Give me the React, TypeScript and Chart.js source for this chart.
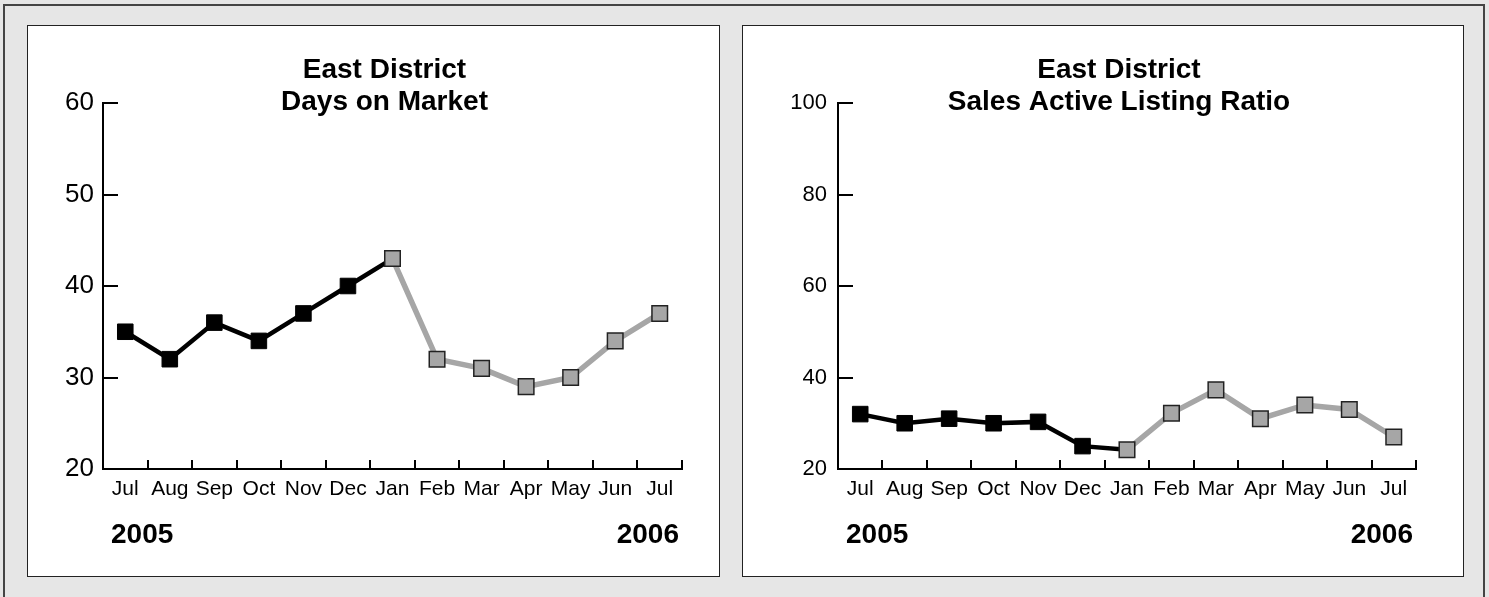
import React, { useEffect, useRef } from "react";
import { Chart, registerables } from "chart.js";

Chart.register(...registerables);

// ---- data ----
const monthLabels = ["Jul", "Aug", "Sep", "Oct", "Nov", "Dec", "Jan", "Feb", "Mar", "Apr", "May", "Jun", "Jul"];
const startYear = "2005";
const endYear = "2006";
// index at which the grey (recent) series begins
const splitIndex = 6;

const daysOnMarketTitle = ["East District", "Days on Market"];
const daysOnMarket = [35, 32, 36, 34, 37, 40, 43, 32, 31, 29, 30, 34, 37];
const daysTicks = { min: 20, max: 60, step: 10 };

const salesRatioTitle = ["East District", "Sales Active Listing Ratio"];
const salesRatio = [32, 30, 31, 30, 30.3, 25, 24.2, 32.2, 37.3, 31, 34, 33, 27];
const salesTicks = { min: 20, max: 100, step: 20 };

const FONT = '"Liberation Sans", Arial, Helvetica, sans-serif';

type PanelProps = {
  left: number;
  top: number;
  width: number;
  height: number;
  padLeft: number;
  padRight: number;
  title: string[];
  values: number[];
  ticks: { min: number; max: number; step: number };
  yFont: number;
  yPad: number;
};

function ChartPanel(p: PanelProps) {
  const ref = useRef<HTMLCanvasElement | null>(null);
  useEffect(() => {
    if (!ref.current) return;
    const black = p.values.map((v, i) => (i <= splitIndex ? v : null));
    const grey = p.values.map((v, i) => (i >= splitIndex ? v : null));
    const blackRadius = p.values.map((_, i) => (i < splitIndex ? 11 : 0));

    const decor = {
      id: "decor",
      afterDraw(chart: any) {
        const ctx = chart.ctx;
        const xs = chart.scales.x;
        const ys = chart.scales.y;
        const area = chart.chartArea;
        ctx.save();
        ctx.strokeStyle = "#000";
        ctx.lineWidth = 2;
        // y tick marks (inward)
        for (let v = p.ticks.min; v <= p.ticks.max; v += p.ticks.step) {
          const y = Math.round(ys.getPixelForValue(v));
          ctx.beginPath();
          ctx.moveTo(area.left - 1, y);
          ctx.lineTo(area.left + 15, y);
          ctx.stroke();
        }
        // x tick marks at category boundaries (inward)
        for (let i = 0; i <= monthLabels.length; i++) {
          const x = Math.round(xs.getPixelForValue(i - 0.5));
          ctx.beginPath();
          ctx.moveTo(x, area.bottom);
          ctx.lineTo(x, area.bottom - 9);
          ctx.stroke();
        }
        // title
        ctx.fillStyle = "#000";
        ctx.font = `bold 28px ${FONT}`;
        ctx.textAlign = "center";
        ctx.textBaseline = "alphabetic";
        const cx = (area.left + area.right) / 2 - 8;
        ctx.fillText(p.title[0], cx, 52);
        ctx.fillText(p.title[1], cx, 84);
        // years
        ctx.textAlign = "left";
        ctx.fillText(startYear, xs.left + 8, area.bottom + 74);
        ctx.textAlign = "right";
        ctx.fillText(endYear, xs.right - 3, area.bottom + 74);
        ctx.restore();
      },
    };

    const chart = new Chart(ref.current, {
      type: "line",
      data: {
        labels: monthLabels,
        datasets: [
          {
            data: grey,
            borderColor: "#a6a6a6",
            borderWidth: 5.5,
            pointStyle: "rect",
            pointRadius: 11,
            pointBackgroundColor: "#a6a6a6",
            pointBorderColor: "#222",
            pointBorderWidth: 1.5,
            tension: 0,
            order: 0,
            spanGaps: false,
          },
          {
            data: black,
            borderColor: "#000",
            borderWidth: 4.5,
            pointStyle: "rect",
            pointRadius: blackRadius,
            pointBackgroundColor: "#000",
            pointBorderColor: "#000",
            pointBorderWidth: 1,
            tension: 0,
            order: 1,
            spanGaps: false,
          },
        ],
      },
      options: {
        responsive: false,
        animation: false,
        events: [],
        layout: { padding: { left: p.padLeft, right: p.padRight, top: 77, bottom: 46 } },
        plugins: {
          legend: { display: false },
          title: { display: false },
          tooltip: { enabled: false },
        },
        scales: {
          x: {
            type: "category",
            offset: true,
            grid: { display: false, drawTicks: false },
            border: { display: true, color: "#000", width: 2 },
            ticks: {
              color: "#000",
              font: { family: FONT, size: 21 },
              padding: 8,
              maxRotation: 0,
              autoSkip: false,
            },
            afterFit: (s: any) => {
              s.height = 60;
            },
          },
          y: {
            min: p.ticks.min,
            max: p.ticks.max,
            grid: { display: false, drawTicks: false },
            border: { display: true, color: "#000", width: 2 },
            ticks: {
              stepSize: p.ticks.step,
              color: "#000",
              font: { family: FONT, size: p.yFont },
              padding: p.yPad,
            },
            afterFit: (s: any) => {
              s.width = 60;
            },
          },
        },
      },
      plugins: [decor],
    } as any);
    return () => chart.destroy();
  }, []);
  return (
    <canvas
      ref={ref}
      width={p.width}
      height={p.height}
      style={{ position: "absolute", left: p.left, top: p.top, width: p.width, height: p.height }}
    />
  );
}

export default function App() {
  const panel: React.CSSProperties = {
    position: "absolute",
    boxSizing: "border-box",
    border: "1.5px solid #222",
    background: "#fff",
  };
  return (
    <div
      style={{
        position: "fixed",
        left: 0,
        top: 0,
        width: 1489,
        height: 597,
        background: "#e6e6e6",
        overflow: "hidden",
      }}
    >
      <div
        style={{
          position: "absolute",
          left: 3,
          top: 4,
          width: 1482,
          height: 640,
          boxSizing: "border-box",
          border: "2px solid #444",
        }}
      />
      <div style={{ ...panel, left: 27, top: 25, width: 693, height: 552 }} />
      <div style={{ ...panel, left: 742, top: 25, width: 722, height: 552 }} />
      <ChartPanel
        left={28}
        top={26}
        width={690}
        height={549}
        padLeft={15}
        padRight={36}
        title={daysOnMarketTitle}
        values={daysOnMarket}
        ticks={daysTicks}
        yFont={26}
        yPad={9}
      />
      <ChartPanel
        left={743}
        top={26}
        width={719}
        height={549}
        padLeft={35}
        padRight={46}
        title={salesRatioTitle}
        values={salesRatio}
        ticks={salesTicks}
        yFont={22}
        yPad={11}
      />
    </div>
  );
}
